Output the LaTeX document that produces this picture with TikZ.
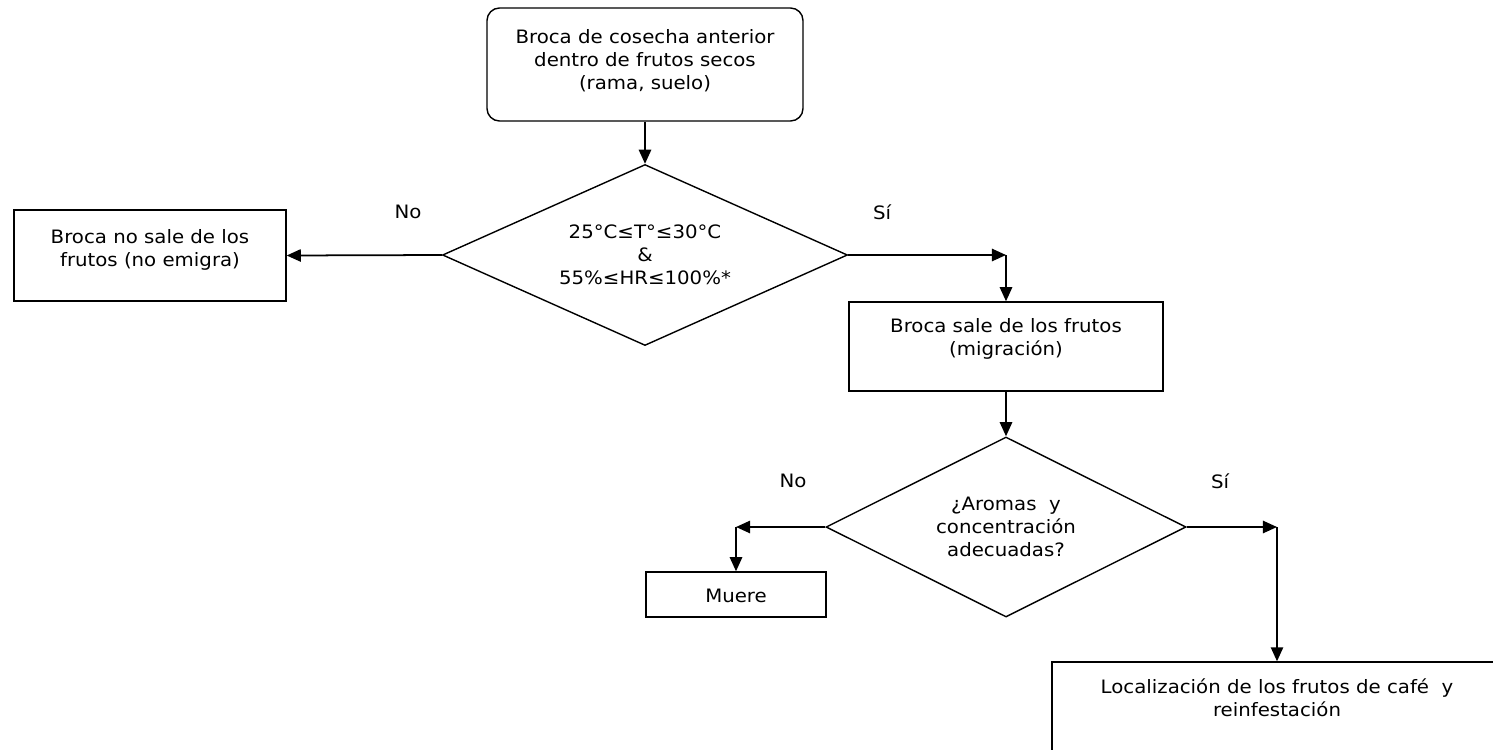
\documentclass[tikz,border=0pt]{standalone}
\usepackage{fontspec}
\setmainfont{DejaVu Sans}[FakeStretch=1.07]
\usetikzlibrary{shapes.geometric, arrows.meta}

\begin{document}
\begin{tikzpicture}[
  every node/.style={font=\fontsize{10.5}{13}\selectfont},
  box/.style={draw, line width=0.8pt, align=center, inner xsep=0pt, inner ysep=0pt},
  startbox/.style={box, rounded corners=0.25cm},
  decision/.style={diamond, draw, line width=0.8pt, align=center, inner sep=0pt, aspect=2.2},
  arrow/.style={-{Triangle[length=8pt, width=7pt]}, line width=1pt}
]
\useasboundingbox (0,0) rectangle (29.86,-14.98);
\clip (0,0) rectangle (29.86,-14.98);

% Start
\node[startbox, minimum width=6.32cm, text height=1.62cm, text depth=0.64cm] (start) at (12.9, -1.29)
  {Broca de cosecha anterior\\dentro de frutos secos\\(rama, suelo)};

% First decision
\node[decision, minimum width=8.1cm, minimum height=3.62cm] (temp) at (12.9, -5.1)
  {25°C≤T°≤30°C\\\&\\55\%≤HR≤100\%*};

% Outcomes of first decision
\node[box, minimum width=5.44cm, text height=1.12cm, text depth=0.70cm] (stay) at (3.0, -5.11)
  {Broca no sale de los\\frutos (no emigra)};
\node[box, minimum width=6.28cm, text height=1.06cm, text depth=0.72cm] (leave) at (20.12, -6.93)
  {Broca sale de los frutos\\(migración)};

% Second decision
\node[decision, minimum width=7.2cm, minimum height=3.6cm] (aroma) at (20.12, -10.54)
  {¿Aromas\ \ y\\concentración\\adecuadas?};

% Outcomes of second decision
\node[box, minimum width=3.6cm, text height=0.60cm, text depth=0.30cm] (dies) at (14.72, -11.89) {Muere};
\node[box, minimum width=9.0cm, text height=1.08cm, text depth=0.88cm] (found) at (25.54, -14.22)
  {Localización de los frutos de café\ \ y\\reinfestación};

% Answers
\node (no1) at (8.16, -4.24) {No};
\node (si1) at (17.64, -4.24) {Sí};
\node (no2) at (15.86, -9.62) {No};
\node (si2) at (24.4, -9.62) {Sí};

% Corners
\coordinate (c1) at (leave.north |- temp.east);
\coordinate (c2) at (dies.north |- aroma.west);
\coordinate (c3) at (found.north |- aroma.east);

% Arrows
\draw[arrow] (start) -- (temp);
\draw[arrow] (temp.west) -- (stay.east);
\draw[arrow] (temp.east) -- (c1);
\draw[arrow] (c1) -- (leave.north);
\draw[arrow] (leave) -- (aroma);
\draw[arrow] (aroma.west) -- (c2);
\draw[arrow] (c2) -- (dies.north);
\draw[arrow] (aroma.east) -- (c3);
\draw[arrow] (c3) -- (found.north);

\end{tikzpicture}
\end{document}
